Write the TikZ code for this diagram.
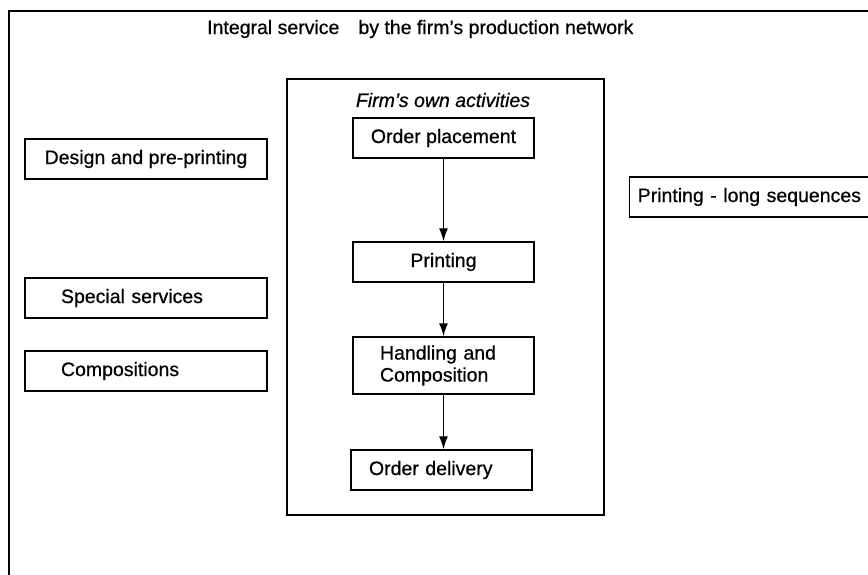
\documentclass[tikz,border=0pt]{standalone}
\usepackage{fontspec}
\setmainfont{Liberation Sans}[FakeBold=0.6, ItalicFeatures={FakeBold=0.6}]
\usetikzlibrary{arrows.meta}
\begin{document}
\begin{tikzpicture}[x=1pt,y=-1pt,
  font=\fontsize{19.5}{22}\selectfont,
  frameline/.style={line width=1.5pt},
  box/.style={draw, line width=1.4pt, inner sep=0pt, minimum height=40pt},
  lbox/.style={box, align=left},
  flow/.style={-{Latex[length=13pt,width=9pt]}, line width=1.4pt}]
\useasboundingbox (0,0) rectangle (868,575);
% outer frame (open to the right and bottom, as cropped)
\coordinate (fbl) at (9,576);
\coordinate (ftl) at (9,11);
\coordinate (ftr) at (869,11);
\draw[frameline] (fbl) -- (ftl) -- (ftr);
\node[anchor=west, inner sep=0pt] (title) at (207,29) {Integral service\hspace{0.7em} by the firm's production network};
% firm's own activities
\node[draw, line width=1.4pt, inner sep=0pt, minimum width=317pt, minimum height=436pt] (firm) at (445.5,297) {};
\node[inner sep=0pt, font=\fontsize{19.5}{22}\selectfont\itshape] (firmlbl) at (443,100) {Firm's own activities};
\node[box, minimum width=181pt] (op) at (443.5,138) {Order placement};
\node[box, minimum width=181pt] (pr) at (443.5,262) {Printing};
\node[lbox, minimum height=57pt, text width=127pt, inner xsep=27pt] (hc) at (443.5,365.5) {Handling and\\Composition};
\node[lbox, text width=145pt, inner xsep=18pt] (od) at (441.5,470) {Order delivery};
\draw[flow] (op) -- (pr);
\draw[flow] (pr) -- (hc);
\draw[flow] (hc.south) -- (hc.south |- od.north);
% outside activities
\node[box, minimum width=242pt] (dp) at (146,159) {Design and pre-printing};
\node[lbox, text width=170pt, inner xsep=36pt] (ss) at (146,298) {Special services};
\node[lbox, text width=170pt, inner xsep=36pt] (co) at (146,371) {Compositions};
\node[lbox, anchor=west, text width=242pt, inner xsep=8pt] (pl) at (629,197) {Printing - long sequences};
\end{tikzpicture}
\end{document}
